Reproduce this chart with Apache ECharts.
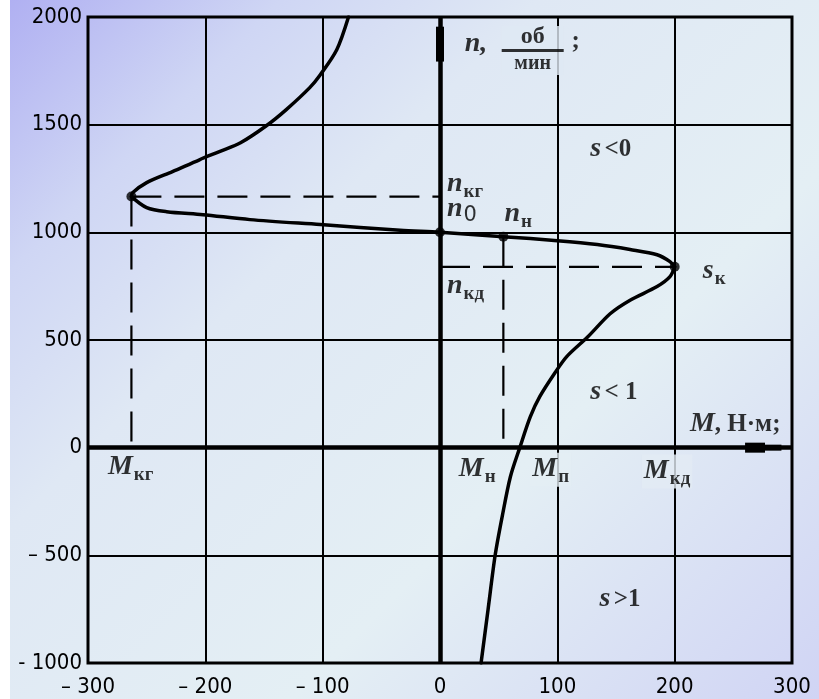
<!DOCTYPE html>
<html>
<head>
<meta charset="utf-8">
<script src="https://cdn.jsdelivr.net/npm/echarts@6/dist/echarts.min.js"></script>
<style>
  html, body { margin: 0; padding: 0; background: #ffffff; }
  #chart {
    position: absolute; left: 10px; top: 0; width: 809px; height: 699px;
    background: linear-gradient(135deg, #b0b0f2 0%, #cfd6f4 18%, #dfe8f4 35%, #e4eff4 65%, #d0d4f4 100%);
  }
</style>
</head>
<body>
<div id="chart"></div>
<script>
// Axis ticks and their printed labels
const torqueTicks = [-300, -200, -100, 0, 100, 200, 300];
const torqueTickLabels = ['– 300', '– 200', '– 100', '0', '100', '200', '300'];
const speedTicks = [-1000, -500, 0, 500, 1000, 1500, 2000];
const speedTickLabels = ['- 1000', '– 500', '0', '500', '1000', '1500', '2000'];

// Mechanical characteristic n(M): torque (Н·м) and speed (об/мин), traced from the braking zone up to generator mode
const curveTorque = [35, 41, 47, 53, 60, 68, 77, 85, 98, 108, 126, 145, 162, 185, 196, 200,
  196, 185, 162, 134, 100, 54, 0, -34, -102, -162, -202, -233, -250, -263,
  -262, -250, -228, -205, -188, -170, -148, -131, -111, -102, -88, -78];
const curveSpeed = [-1000, -750, -500, -320, -135, 0, 144, 237, 348, 423, 515, 622, 685, 748, 794, 840,
  864, 896, 920, 943, 961, 980, 1000, 1010, 1036, 1059, 1082, 1096, 1115, 1166,
  1184, 1231, 1282, 1337, 1375, 1416, 1495, 1570, 1672, 1732, 1848, 2000];
// Indices where the characteristic turns back (critical motor and critical generator points)
const curveBreaks = [0, 15, 29, curveTorque.length - 1];

// Characteristic points: critical generator, synchronous, rated, critical motor
const keyTorque = [-263, 0, 54, 200];
const keySpeed = [1166, 1000, 980, 840];

// Dashed projection lines from the characteristic points to the axes
const guideTorque = [[-263, 0], [-263, -263], [54, 54], [0, 200]];
const guideSpeed = [[1166, 1166], [1166, 0], [980, 0], [840, 840]];

// Axis arrow heads
const arrowY = { torque: [0, 0], speed: [1793, 1955] };
const arrowXWide = { torque: [260, 277], speed: [0, 0] };
const arrowXThin = { torque: [277, 291], speed: [0, 0] };

// Text annotations: anchor (torque, speed) and rich text
const noteTorque = [21, 112, 128, 6, 6, 55, 224, 6, 128, 213, -283, 16, 77, 172, 136];
const noteSpeed = [1872, 1885, 1384, 1221, 1105, 1082, 817, 748, 255, 107, -93, -102, -102, -111, -706];
const noteText = [
  '{it|n,}', '{up|;}', '{it|s} {up|<0}',
  '{it|n}{sub|кг}', '{it|n}{sub0|0}', '{it|n}{sub|н}', '{it|s}{sub|к}', '{it|n}{sub|кд}',
  '{it|s} {up|< 1}', '{it|M}{up|, Н·м;}',
  '{it|M}{sub|кг}', '{it|M}{sub|н}', '{it|M}{sub|п}', '{it|M}{sub|кд}', '{it|s} {up|>1}'
];
// Labels drawn on an opaque patch that interrupts the grid line behind them
const notePatch = [null, null, null, null, null, null, null, null, null, null, null, null, '#e3eef4', '#e2ebf4', null];
// Unit fraction over the speed axis
const fractionTorque = [79];
const fractionSpeed = [1844];
const fractionPatch = '#dfe8f4';

const serif = '"Liberation Serif", "DejaVu Serif", serif';
const richStyles = {
  it: { fontFamily: serif, fontStyle: 'italic', fontWeight: 'bold', fontSize: 28, lineHeight: 30, verticalAlign: 'top', color: '#000' },
  up: { fontFamily: serif, fontWeight: 'bold', fontSize: 25, lineHeight: 30, verticalAlign: 'top', padding: [2, 0, 0, 0], color: '#000' },
  sub: { fontFamily: serif, fontWeight: 'bold', fontSize: 19, lineHeight: 20, verticalAlign: 'top', padding: [13, 0, 0, 1], color: '#000' },
  sub0: { fontFamily: '"DejaVu Sans", sans-serif', fontSize: 21, lineHeight: 22, verticalAlign: 'top', padding: [10, 0, 0, 1], color: '#000' },
  num: { fontFamily: serif, fontWeight: 'bold', fontSize: 24, lineHeight: 22, align: 'center', color: '#000' },
  bar: { width: 62, height: 3, lineHeight: 5, backgroundColor: '#000', align: 'center' },
  den: { fontFamily: serif, fontWeight: 'bold', fontSize: 20, lineHeight: 22, align: 'center', color: '#000' }
};

const zip = (a, b) => a.map((v, i) => [v, b[i]]);

const chart = echarts.init(document.getElementById('chart'), null, { renderer: 'canvas' });

const guideSeries = guideTorque.map((xs, i) => ({
  type: 'line', data: zip(xs, guideSpeed[i]), symbol: 'none', silent: true, z: 3,
  lineStyle: { color: '#000', width: 2.2, type: [30, 13] }
}));

const arrowSeries = [
  [arrowY, 8], [arrowXWide, 10], [arrowXThin, 6]
].map(([a, w]) => ({
  type: 'line', data: zip(a.torque, a.speed), symbol: 'none', silent: true, z: 4,
  lineStyle: { color: '#000', width: w, cap: 'butt' }
}));

// the characteristic, drawn as smooth pieces between its turning points
const curvePoints = zip(curveTorque, curveSpeed);
const curveSeries = curveBreaks.slice(1).map((end, i) => ({
  type: 'line', data: curvePoints.slice(curveBreaks[i], end + 1), symbol: 'none', z: 5,
  smooth: 0.3, clip: true, lineStyle: { color: '#000', width: 3.5, join: 'round', cap: 'round' }
}));

const noteData = noteTorque.map((x, i) => ({
  value: [x, noteSpeed[i]],
  label: {
    formatter: noteText[i],
    backgroundColor: notePatch[i] || 'transparent',
    padding: notePatch[i] ? [2, 2, 2, 2] : 0
  }
}));

chart.setOption({
  animation: false,
  backgroundColor: 'transparent',
  grid: { left: 78, right: 27, top: 17, bottom: 36, containLabel: false, outerBoundsMode: 'none',
    show: true, borderColor: '#000', borderWidth: 3, backgroundColor: 'transparent' },
  xAxis: {
    type: 'value', min: torqueTicks[0], max: torqueTicks[torqueTicks.length - 1], interval: 100,
    axisLine: { show: false, onZero: false }, axisTick: { show: false },
    splitLine: { show: true, lineStyle: { color: '#000', width: 2 } },
    axisLabel: {
      margin: 13, color: '#000', fontSize: 22,
      fontFamily: '"DejaVu Sans Condensed", "DejaVu Sans", sans-serif',
      formatter: v => torqueTickLabels[torqueTicks.indexOf(v)]
    }
  },
  yAxis: {
    type: 'value', min: speedTicks[0], max: speedTicks[speedTicks.length - 1], interval: 500,
    axisLine: { show: false, onZero: false }, axisTick: { show: false },
    splitLine: { show: true, lineStyle: { color: '#000', width: 2 } },
    axisLabel: {
      margin: 6, color: '#000', fontSize: 22,
      fontFamily: '"DejaVu Sans Condensed", "DejaVu Sans", sans-serif',
      formatter: v => speedTickLabels[speedTicks.indexOf(v)]
    }
  },
  series: [
    {
      // coordinate axes through the origin
      type: 'line', data: [], silent: true, z: 2,
      markLine: {
        silent: true, symbol: 'none', label: { show: false },
        lineStyle: { color: '#000', width: 4.5, type: 'solid' },
        data: [{ xAxis: 0 }, { yAxis: 0 }]
      }
    },
    ...guideSeries,
    ...arrowSeries,
    ...curveSeries,
    {
      type: 'scatter', data: zip(keyTorque, keySpeed), symbolSize: 10, z: 6,
      itemStyle: { color: '#000' }
    },
    {
      type: 'scatter', data: noteData, symbolSize: 0, z: 7, silent: true,
      label: { show: true, position: 'right', distance: 0, rich: richStyles }
    },
    {
      type: 'scatter', data: zip(fractionTorque, fractionSpeed), symbolSize: 0, z: 7, silent: true,
      label: {
        show: true, position: 'inside', formatter: '{num|об}\n{bar|}\n{den|мин}',
        backgroundColor: fractionPatch, padding: [0, 0, 0, 0], rich: richStyles
      }
    }
  ]
});
</script>
</body>
</html>
